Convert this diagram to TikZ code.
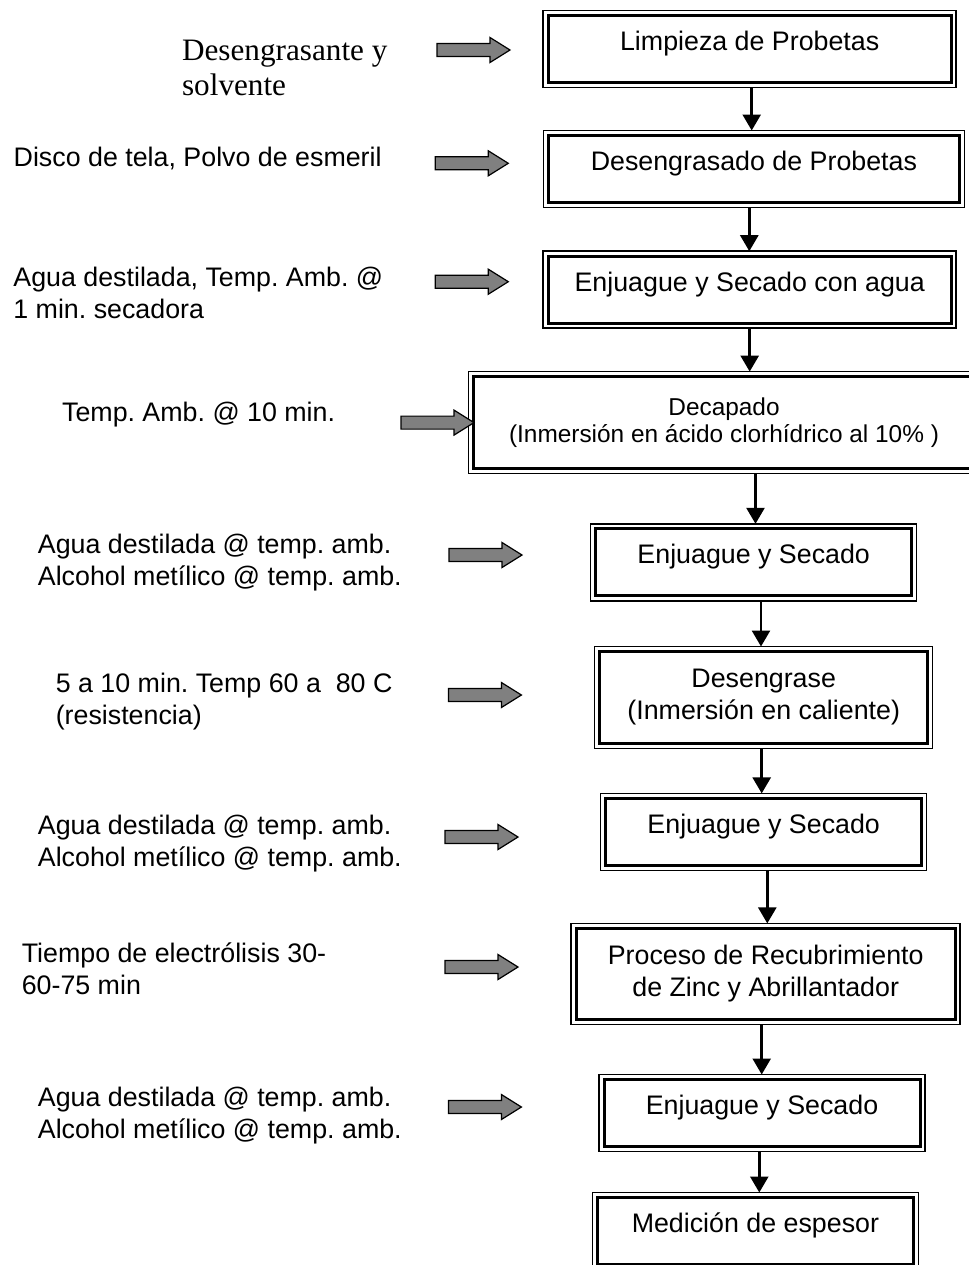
\documentclass[tikz,border=0pt]{standalone}
\usepackage{fontspec}
\setmainfont{Liberation Sans}
\newfontfamily\timesfont{Liberation Serif}
\usetikzlibrary{arrows.meta}
\definecolor{arrowgray}{RGB}{128,128,128}
\frenchspacing

\tikzset{
  stage/.style={draw, line width=1.5pt, outer sep=2.5pt, inner sep=0pt, align=center,
    font=\fontsize{13.4pt}{16pt}\selectfont},
  oneline/.style={text height=17.5pt, text depth=16pt},
  flow/.style={line width=1.3pt, -{Triangle[length=8pt,width=9pt]}},
  info/.style={anchor=base west, align=left, inner sep=0pt,
    font=\fontsize{13.4pt}{16pt}\selectfont},
  feed/.pic={\draw[fill=arrowgray, line width=0.6pt] (-73,-6.5) -- (-20,-6.5) -- (-20,-12.5)
    -- (0,0) -- (-20,12.5) -- (-20,6.5) -- (-73,6.5) -- cycle;}
}

\begin{document}
\begin{tikzpicture}[x=0.5pt,y=-0.5pt]

\useasboundingbox (0,0) rectangle (969,1265);

\node[stage, oneline, minimum width=201.5pt] (b1) at (749.7,49) {Limpieza de Probetas};
\node[stage, oneline, minimum width=205.5pt] (b2) at (753.9,169) {Desengrasado de Probetas};
\node[stage, oneline, minimum width=201.5pt] (b3) at (749.7,289.7) {Enjuague y Secado con agua};
\node[stage, minimum width=250.5pt, minimum height=46pt, font=\fontsize{12.2pt}{13.5pt}\selectfont]
  (b4) at (724,422.6) {Decapado\\(Inmersión en ácido clorhídrico al 10\% )};
\node[stage, oneline, minimum width=158pt] (b5) at (753.7,562.3) {Enjuague y Secado};
\node[stage, minimum width=164pt, minimum height=46pt] (b6) at (763.7,697.5)
  {Desengrase\\(Inmersión en caliente)};
\node[stage, oneline, minimum width=158pt] (b7) at (763.7,831.9) {Enjuague y Secado};
\node[stage, minimum width=189.5pt, minimum height=45.5pt] (b8) at (765.7,973.9)
  {Proceso de Recubrimiento\\de Zinc y Abrillantador};
\node[stage, oneline, minimum width=158pt] (b9) at (762,1113) {Enjuague y Secado};
\node[stage, oneline, minimum width=158pt] (b10) at (755.4,1231) {Medición de espesor};

\foreach \b in {b1,b2,b3,b4,b5,b6,b7,b8,b9,b10}
  \draw[line width=0.75pt] (\b.north west) rectangle (\b.south east);

\draw[flow] ([xshift=1pt]b1.south) -- ([xshift=1pt]b1.south |- b2.north);
\draw[flow] ([xshift=-2.3pt]b2.south) -- ([xshift=-2.3pt]b2.south |- b3.north);
\draw[flow] (b3.south) -- (b3.south |- b4.north);
\draw[flow] ([xshift=15.75pt]b4.south) -- ([xshift=15.75pt]b4.south |- b5.north);
\draw[flow] ([xshift=3.65pt]b5.south) -- ([xshift=3.65pt]b5.south |- b6.north);
\draw[flow] ([xshift=-1pt]b6.south) -- ([xshift=-1pt]b6.south |- b7.north);
\draw[flow] ([xshift=1.8pt]b7.south) -- ([xshift=1.8pt]b7.south |- b8.north);
\draw[flow] ([xshift=-2pt]b8.south) -- ([xshift=-2pt]b8.south |- b9.north);
\draw[flow] ([xshift=-1.35pt]b9.south) -- ([xshift=-1.35pt]b9.south |- b10.north);

\pic at (510,50) {feed};
\pic at (508.3,163.3) {feed};
\pic at (508.3,281.7) {feed};
\pic at ([xshift=2.75pt]b4.west) {feed};
\pic at (522,555) {feed};
\pic at (521.4,695) {feed};
\pic at (518,837) {feed};
\pic at (518,967) {feed};
\pic at (521.4,1107) {feed};

\node[info, font=\timesfont\fontsize{15.6pt}{17.5pt}\selectfont] (s1) at (181.7,95)
  {Desengrasante y\\solvente};
\node[info] (s2) at (13.3,166.7) {Disco de tela, Polvo de esmeril};
\node[info] (s3) at (13,318.3) {Agua destilada, Temp. Amb. @\\1 min. secadora};
\node[info] (s4) at (61.7,421.7) {Temp. Amb. @ 10 min.};
\node[info] (s5) at (37.5,585) {Agua destilada @ temp. amb.\\Alcohol metílico @ temp. amb.};
\node[info] (s6) at (55.4,724) {5 a 10 min. Temp 60 a\ \ 80 C\\(resistencia)};
\node[info] (s7) at (37.5,866) {Agua destilada @ temp. amb.\\Alcohol metílico @ temp. amb.};
\node[info] (s8) at (21.4,994) {Tiempo de electrólisis 30-\\60-75 min};
\node[info] (s9) at (37.5,1138) {Agua destilada @ temp. amb.\\Alcohol metílico @ temp. amb.};

\end{tikzpicture}
\end{document}
